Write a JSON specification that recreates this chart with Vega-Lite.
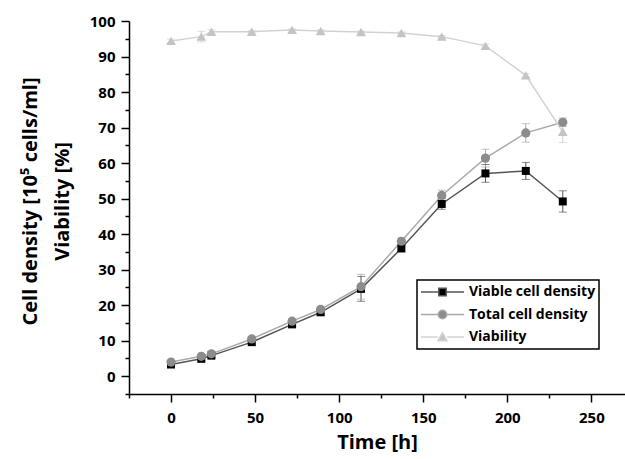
{
  "$schema": "https://vega.github.io/schema/vega-lite/v6.json",
  "autosize": {"type": "none"},
  "width": 496,
  "height": 373,
  "padding": {"left": 129, "top": 21, "right": 0, "bottom": 65},
  "background": "white",
  "config": {
    "view": {"stroke": null},
    "axis": {
      "grid": false,
      "domainColor": "black",
      "domainWidth": 1.5,
      "tickColor": "black",
      "tickWidth": 1.5,
      "labelFont": "Open Sans",
      "labelFontWeight": "bold",
      "labelFontSize": 15,
      "labelColor": "black",
      "titleFont": "Open Sans",
      "titleFontWeight": "bold",
      "titleFontSize": 20,
      "titleColor": "black"
    },
    "legend": {
      "strokeColor": "black",
      "strokeWidth": 1.5,
      "fillColor": "white",
      "padding": 3,
      "symbolSize": 1849,
      "symbolStrokeWidth": 1.5,
      "symbolOpacity": 1,
      "clipHeight": 18,
      "rowPadding": 4.5,
      "labelOffset": 4,
      "labelFont": "Open Sans",
      "labelFontWeight": "bold",
      "labelFontSize": 14,
      "labelColor": "black",
      "labelLimit": 0
    }
  },
  "data": {
    "values": [
      {"t": 0, "series": "Viable cell density", "v": 3.3, "lo": 2.8, "hi": 3.8},
      {"t": 18, "series": "Viable cell density", "v": 4.9, "lo": 4.4, "hi": 5.4},
      {"t": 24, "series": "Viable cell density", "v": 5.8, "lo": 5.3, "hi": 6.3},
      {"t": 48, "series": "Viable cell density", "v": 9.6, "lo": 9.0, "hi": 10.2},
      {"t": 72, "series": "Viable cell density", "v": 14.6, "lo": 13.9, "hi": 15.3},
      {"t": 89, "series": "Viable cell density", "v": 18.0, "lo": 17.2, "hi": 18.8},
      {"t": 113, "series": "Viable cell density", "v": 24.6, "lo": 21.1, "hi": 28.1},
      {"t": 137, "series": "Viable cell density", "v": 36.0, "lo": 35.0, "hi": 37.0},
      {"t": 161, "series": "Viable cell density", "v": 48.5, "lo": 47.0, "hi": 50.0},
      {"t": 187, "series": "Viable cell density", "v": 57.1, "lo": 54.6, "hi": 59.6},
      {"t": 211, "series": "Viable cell density", "v": 57.8, "lo": 55.4, "hi": 60.2},
      {"t": 233, "series": "Viable cell density", "v": 49.2, "lo": 46.2, "hi": 52.2},
      {"t": 0, "series": "Total cell density", "v": 4.0, "lo": 3.5, "hi": 4.5},
      {"t": 18, "series": "Total cell density", "v": 5.6, "lo": 5.1, "hi": 6.1},
      {"t": 24, "series": "Total cell density", "v": 6.3, "lo": 5.8, "hi": 6.8},
      {"t": 48, "series": "Total cell density", "v": 10.5, "lo": 9.9, "hi": 11.1},
      {"t": 72, "series": "Total cell density", "v": 15.5, "lo": 14.8, "hi": 16.2},
      {"t": 89, "series": "Total cell density", "v": 18.8, "lo": 18.0, "hi": 19.6},
      {"t": 113, "series": "Total cell density", "v": 25.2, "lo": 21.7, "hi": 28.7},
      {"t": 137, "series": "Total cell density", "v": 38.0, "lo": 37.0, "hi": 39.0},
      {"t": 161, "series": "Total cell density", "v": 50.9, "lo": 49.4, "hi": 52.4},
      {"t": 187, "series": "Total cell density", "v": 61.4, "lo": 58.9, "hi": 63.9},
      {"t": 211, "series": "Total cell density", "v": 68.5, "lo": 65.9, "hi": 71.1},
      {"t": 233, "series": "Total cell density", "v": 71.5, "lo": 70.3, "hi": 72.7},
      {"t": 0, "series": "Viability", "v": 94.4, "lo": 93.9, "hi": 94.9},
      {"t": 18, "series": "Viability", "v": 95.6, "lo": 94.1, "hi": 97.1},
      {"t": 24, "series": "Viability", "v": 97.0, "lo": 96.5, "hi": 97.5},
      {"t": 48, "series": "Viability", "v": 97.0, "lo": 96.7, "hi": 97.3},
      {"t": 72, "series": "Viability", "v": 97.5, "lo": 97.2, "hi": 97.8},
      {"t": 89, "series": "Viability", "v": 97.2, "lo": 96.9, "hi": 97.5},
      {"t": 113, "series": "Viability", "v": 96.9, "lo": 96.6, "hi": 97.2},
      {"t": 137, "series": "Viability", "v": 96.6, "lo": 96.3, "hi": 96.9},
      {"t": 161, "series": "Viability", "v": 95.6, "lo": 95.3, "hi": 95.9},
      {"t": 187, "series": "Viability", "v": 93.0, "lo": 92.5, "hi": 93.5},
      {"t": 211, "series": "Viability", "v": 84.7, "lo": 84.2, "hi": 85.2},
      {"t": 233, "series": "Viability", "v": 68.8, "lo": 65.8, "hi": 71.8}
    ]
  },
  "encoding": {
    "x": {
      "field": "t", "type": "quantitative",
      "scale": {"domain": [-25, 270], "nice": false, "zero": false},
      "axis": {
        "orient": "bottom",
        "title": "Time [h]",
        "values": [-25, 0, 25, 50, 75, 100, 125, 150, 175, 200, 225, 250],
        "labelExpr": "datum.value % 50 === 0 ? datum.label : ''",
        "tickSize": {"condition": {"test": "datum.value % 50 === 0", "value": 8}, "value": 4},
        "labelPadding": 8,
        "labelOverlap": false,
        "titlePadding": 7
      }
    },
    "y": {
      "field": "v", "type": "quantitative",
      "scale": {"domain": [-5, 100], "nice": false, "zero": false},
      "axis": {
        "orient": "left",
        "title": ["Cell density [10⁵ cells/ml]", "Viability [%]"],
        "titleLineHeight": 32,
        "titleY": 180,
        "values": [-5, 0, 5, 10, 15, 20, 25, 30, 35, 40, 45, 50, 55, 60, 65, 70, 75, 80, 85, 90, 95, 100],
        "labelExpr": "datum.value % 10 === 0 ? datum.label : ''",
        "tickSize": {"condition": {"test": "datum.value % 10 === 0", "value": 8}, "value": 4},
        "labelPadding": 6,
        "labelOverlap": false,
        "titlePadding": 17
      }
    }
  },
  "layer": [
    {
      "mark": {"type": "point", "filled": true, "size": 0, "strokeWidth": 1.5},
      "encoding": {
        "fill": {
          "field": "series", "type": "nominal",
          "scale": {"domain": ["Viable cell density", "Total cell density", "Viability"], "range": ["#000000", "#8c8c8c", "#c4c4c4"]},
          "legend": {"orient": "none", "legendX": 288, "legendY": 259, "title": null}
        },
        "stroke": {
          "field": "series", "type": "nominal",
          "scale": {"domain": ["Viable cell density", "Total cell density", "Viability"], "range": ["#555555", "#aaaaaa", "#d2d2d2"]},
          "legend": {"orient": "none", "legendX": 288, "legendY": 259, "title": null}
        },
        "shape": {
          "field": "series", "type": "nominal",
          "scale": {"domain": ["Viable cell density", "Total cell density", "Viability"], "range": [
            "M-1,0H-0.2M0.2,0H1M-0.172,-0.172H0.172V0.172H-0.172Z",
            "M-1,0H-0.22M0.22,0H1M-0.2,0A0.2,0.2 0 1,0 0.2,0A0.2,0.2 0 1,0 -0.2,0Z",
            "M-1,0H-0.22M0.22,0H1M-0.21,0.17L0,-0.2L0.21,0.17Z"
          ]},
          "legend": {"orient": "none", "legendX": 288, "legendY": 259, "title": null}
        }
      }
    },
    {
      "mark": {"type": "line", "strokeWidth": 1.5},
      "encoding": {
        "color": {
          "field": "series", "type": "nominal",
          "scale": {"domain": ["Viable cell density", "Total cell density", "Viability"], "range": ["#555555", "#aaaaaa", "#d2d2d2"]},
          "legend": null
        },
        "detail": {"field": "series"}
      }
    },
    {
      "mark": {"type": "rule", "strokeWidth": 1},
      "encoding": {
        "y": {
          "field": "lo", "type": "quantitative",
          "scale": {"domain": [-5, 100], "nice": false, "zero": false},
          "axis": {
            "orient": "left",
            "title": ["Cell density [10⁵ cells/ml]", "Viability [%]"],
            "titleLineHeight": 32,
            "titleY": 180,
            "values": [-5, 0, 5, 10, 15, 20, 25, 30, 35, 40, 45, 50, 55, 60, 65, 70, 75, 80, 85, 90, 95, 100],
            "labelExpr": "datum.value % 10 === 0 ? datum.label : ''",
            "tickSize": {"condition": {"test": "datum.value % 10 === 0", "value": 8}, "value": 4},
            "labelPadding": 6,
            "labelOverlap": false,
            "titlePadding": 17
          }
        },
        "y2": {"field": "hi"},
        "color": {"field": "series", "type": "nominal", "legend": null}
      }
    },
    {
      "mark": {"type": "tick", "orient": "horizontal", "size": 8, "thickness": 1},
      "encoding": {
        "y": {
          "field": "lo", "type": "quantitative",
          "scale": {"domain": [-5, 100], "nice": false, "zero": false},
          "axis": {
            "orient": "left",
            "title": ["Cell density [10⁵ cells/ml]", "Viability [%]"],
            "titleLineHeight": 32,
            "titleY": 180,
            "values": [-5, 0, 5, 10, 15, 20, 25, 30, 35, 40, 45, 50, 55, 60, 65, 70, 75, 80, 85, 90, 95, 100],
            "labelExpr": "datum.value % 10 === 0 ? datum.label : ''",
            "tickSize": {"condition": {"test": "datum.value % 10 === 0", "value": 8}, "value": 4},
            "labelPadding": 6,
            "labelOverlap": false,
            "titlePadding": 17
          }
        },
        "color": {"field": "series", "type": "nominal", "legend": null}
      }
    },
    {
      "mark": {"type": "tick", "orient": "horizontal", "size": 8, "thickness": 1},
      "encoding": {
        "y": {
          "field": "hi", "type": "quantitative",
          "scale": {"domain": [-5, 100], "nice": false, "zero": false},
          "axis": {
            "orient": "left",
            "title": ["Cell density [10⁵ cells/ml]", "Viability [%]"],
            "titleLineHeight": 32,
            "titleY": 180,
            "values": [-5, 0, 5, 10, 15, 20, 25, 30, 35, 40, 45, 50, 55, 60, 65, 70, 75, 80, 85, 90, 95, 100],
            "labelExpr": "datum.value % 10 === 0 ? datum.label : ''",
            "tickSize": {"condition": {"test": "datum.value % 10 === 0", "value": 8}, "value": 4},
            "labelPadding": 6,
            "labelOverlap": false,
            "titlePadding": 17
          }
        },
        "color": {"field": "series", "type": "nominal", "legend": null}
      }
    },
    {
      "transform": [{"filter": "datum.series === 'Viability'"}],
      "mark": {"type": "point", "shape": "triangle-up", "filled": true, "size": 95, "color": "#c4c4c4", "opacity": 1}
    },
    {
      "transform": [{"filter": "datum.series === 'Viable cell density'"}],
      "mark": {"type": "point", "shape": "square", "filled": true, "size": 64, "color": "#000000", "opacity": 1}
    },
    {
      "transform": [{"filter": "datum.series === 'Total cell density'"}],
      "mark": {"type": "point", "shape": "circle", "filled": true, "size": 85, "color": "#8c8c8c", "opacity": 1}
    }
  ]
}
